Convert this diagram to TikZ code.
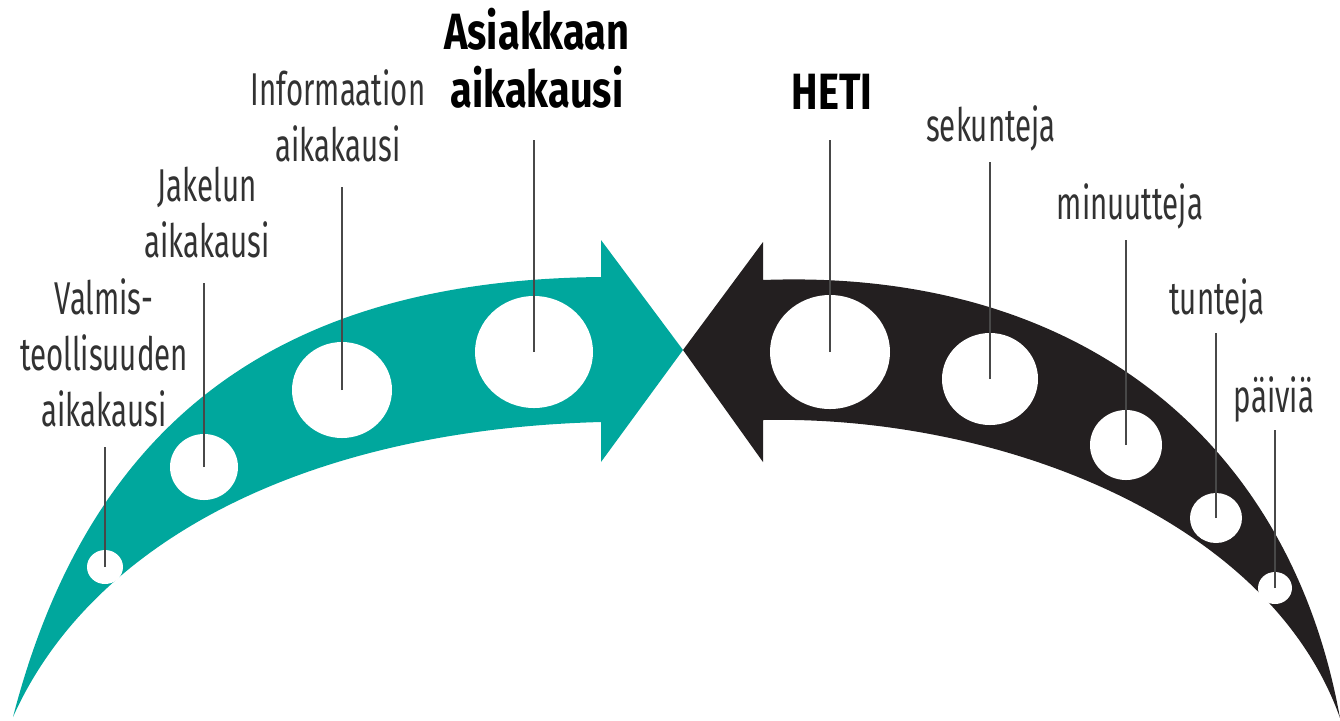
\documentclass[tikz,border=0pt]{standalone}
\usepackage{fontspec}
\usepackage{xcolor}
\usepackage{tikz}
\newfontfamily\labelfont{Fira Sans}[FakeStretch=0.64, BoldFeatures={FakeStretch=0.78}]
\usetikzlibrary{shapes,positioning,calc}

\definecolor{eraTeal}{RGB}{0,167,157}
\definecolor{nowBlack}{RGB}{35,31,32}
\definecolor{leaderGrey}{RGB}{72,72,72}
\definecolor{textGrey}{RGB}{50,50,50}

\begin{document}
\begin{tikzpicture}[x=0.5pt,y=-0.5pt,
    lbl/.style={font=\labelfont\fontsize{23}{28}\selectfont, text=textGrey, align=center,
                inner sep=0pt, text depth=0pt, anchor=south},
    lblbold/.style={lbl, font=\labelfont\bfseries\fontsize{25.5}{29}\selectfont, text=black},
    hole/.style={ellipse, fill=white, inner sep=0pt},
    leader/.style={draw=leaderGrey, line width=1.1pt}]
    \useasboundingbox (0,0) rectangle (1340,720);

    % Teal arrow (past eras)
    \fill[eraTeal] (13,717) .. controls (90,420) and (280,280) .. (601,277)
        -- (601,240) -- (683,350) -- (601,462) -- (601,422)
        .. controls (300,430) and (90,545) .. (13,717) -- cycle;

    % Black arrow (response times)
    \fill[nowBlack] (1340,718) .. controls (1290,440) and (1080,268) .. (763,280)
        -- (763,242) -- (683,350) -- (763,462) -- (763,420)
        .. controls (1000,415) and (1270,520) .. (1340,718) -- cycle;

    % Holes
    \foreach \n/\x/\y/\w/\h in {Val/105/567/18/17, Jak/204/467/34/33, Inf/342/390/50/48,
        Asi/534/352/59/56, Heti/830/352/60/57, Sek/990/379/48/46, Min/1126/445/36/35,
        Tun/1216/518/26/25, Pai/1275/588/17/16}
        \node[hole, minimum width=\w pt, minimum height=\h pt] (h\n) at (\x,\y) {};

    % Labels
    \node[lbl] (lVal) at (104,427) {Valmis-\\teollisuuden\\aikakausi};
    \node[lbl] (lJak) at (207,258) {Jakelun\\aikakausi};
    \node[lbl] (lInf) at (338,162) {Informaation\\aikakausi};
    \node[lblbold] (lAsi) at (537,108) {Asiakkaan\\aikakausi};
    \node[lblbold] (lHeti) at (832,110) {HETI};
    \node[lbl] (lSek) at (991,142) {sekunteja};
    \node[lbl] (lMin) at (1130,220) {minuutteja};
    \node[lbl] (lTun) at (1217,315) {tunteja};
    \node[lbl] (lPai) at (1274,413) {päiviä};

    % Leader lines (gap below each label)
    \foreach \n/\g in {Val/10, Jak/12.5, Inf/12.5, Asi/16, Heti/15, Sek/10, Min/10, Tun/9, Pai/8.5}
        \draw[leader] (h\n.center) -- ([yshift=-\g pt]l\n.south -| h\n.center);
\end{tikzpicture}
\end{document}
